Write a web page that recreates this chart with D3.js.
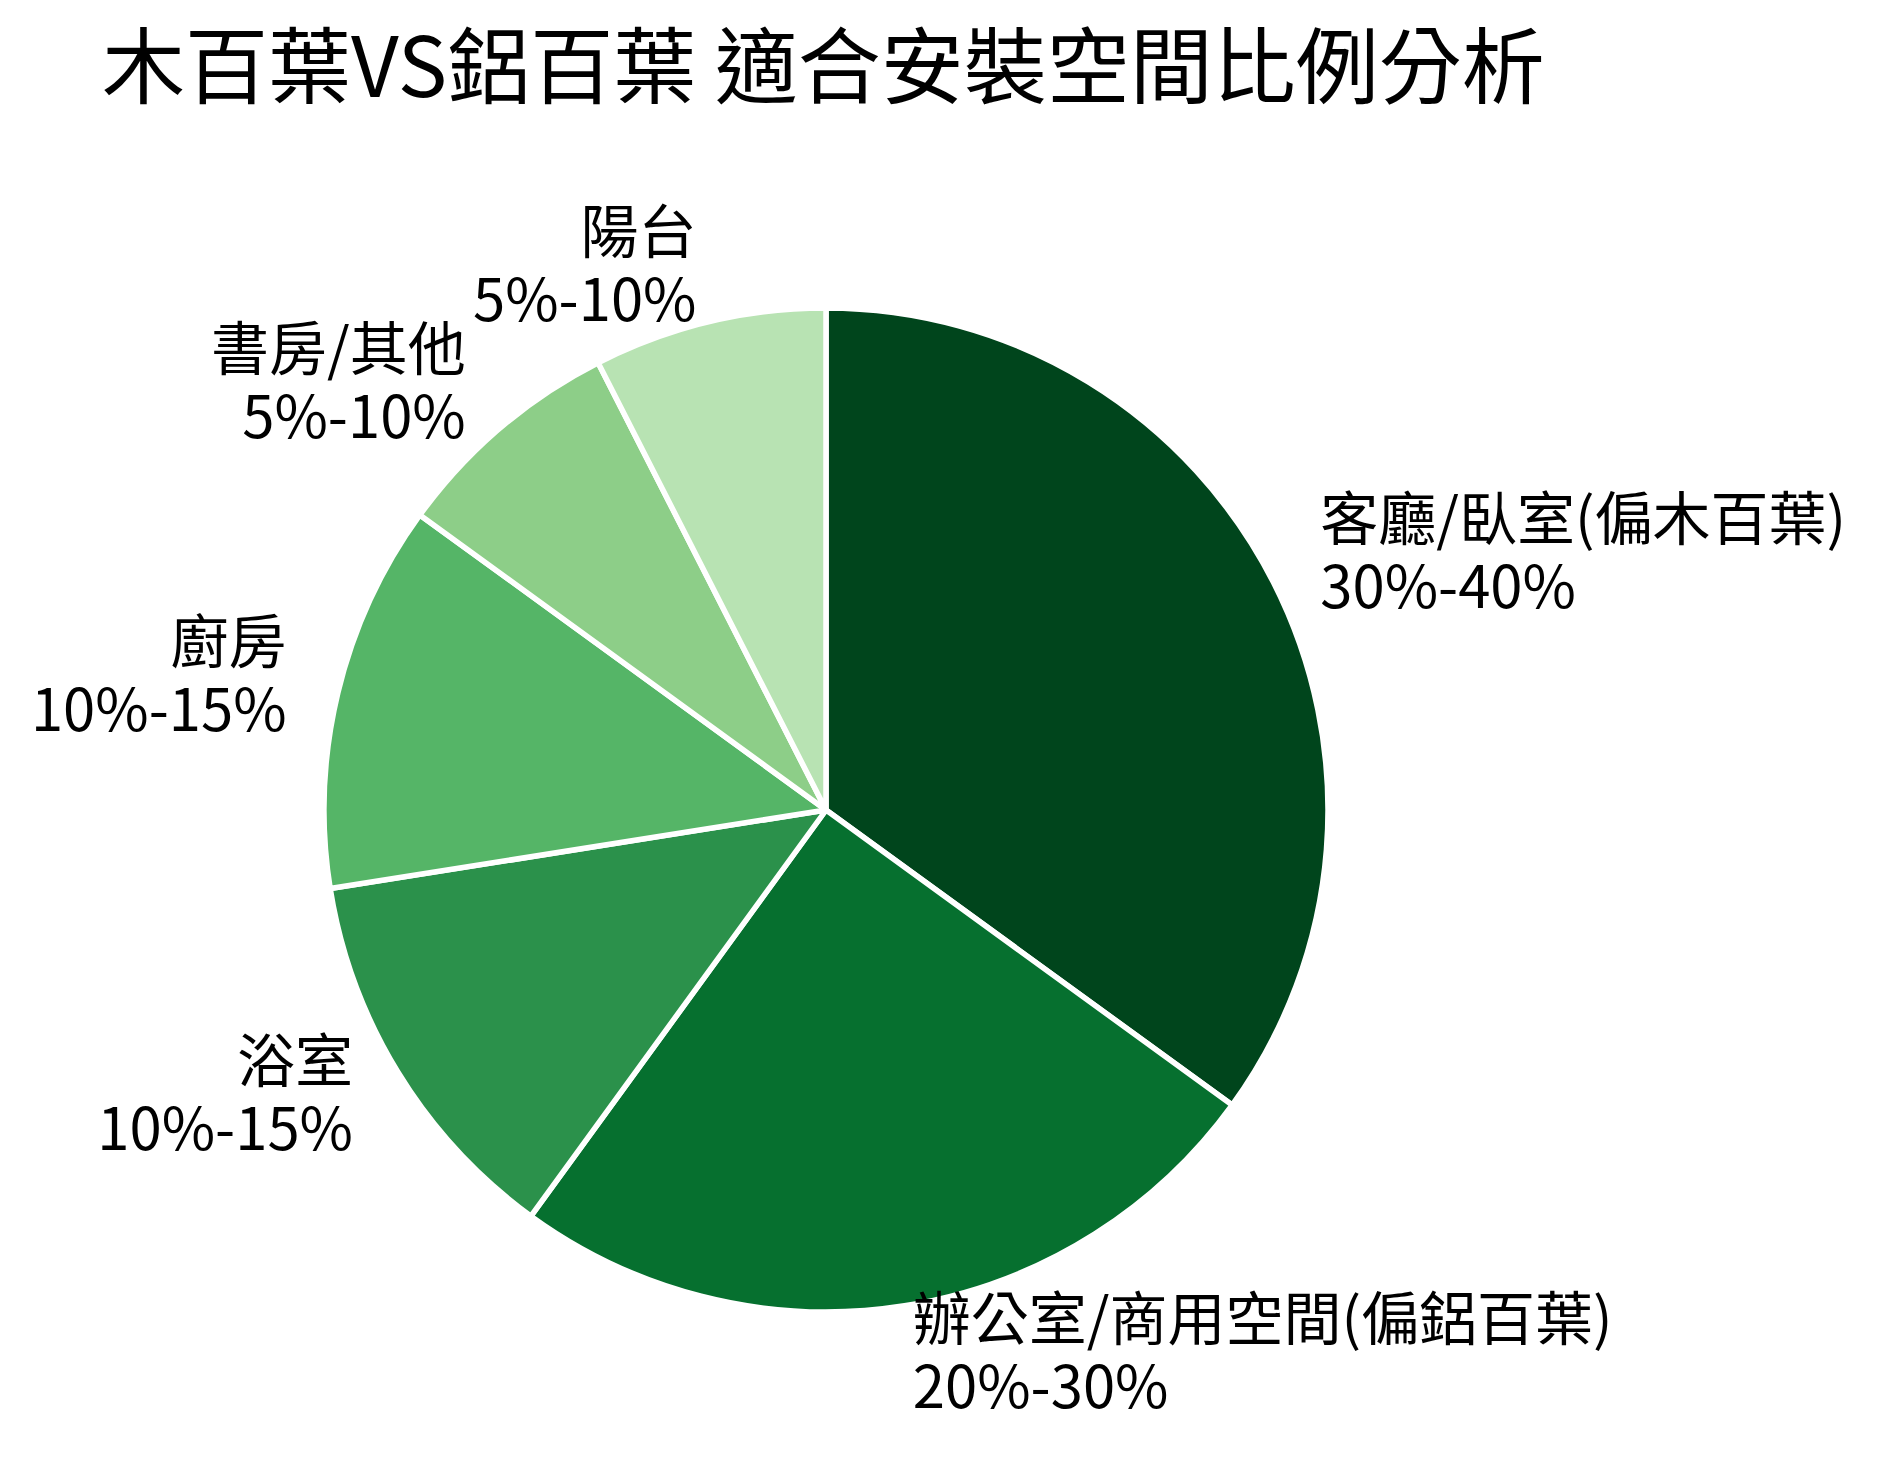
<!DOCTYPE html>
<html>
<head>
<meta charset="utf-8">
<script src="https://cdn.jsdelivr.net/npm/d3@7"></script>
<style>
  body { margin: 0; background: #fff; }
  text { font-family: "Noto Sans CJK TC", "Noto Sans CJK SC", sans-serif; fill: #000; }
</style>
</head>
<body>
<div id="chart"></div>
<script>
var categories = ["客廳/臥室(偏木百葉)", "辦公室/商用空間(偏鋁百葉)", "浴室", "廚房", "書房/其他", "陽台"];
var ranges = ["30%-40%", "20%-30%", "10%-15%", "10%-15%", "5%-10%", "5%-10%"];
var shares = [35, 25, 12.5, 12.5, 7.5, 7.5];

var width = 1877;
var height = 1468;
var radius = 502;
var cx = 826, cy = 810;

var svg = d3.select('#chart').append('svg')
  .attr('width', width)
  .attr('height', height);

svg.append('text')
  .attr('x', 102)
  .attr('y', 97)
  .style('font-size', '83px')
  .text('木百葉VS鋁百葉 適合安裝空間比例分析');

var color = d3.scaleOrdinal()
  .domain(categories)
  .range(["#00451c", "#06702f", "#2b914b", "#55b567", "#8dce88", "#b8e3b3"]);

var data = categories.map(function(c, i) {
  return { name: c, range: ranges[i], share: shares[i] };
});

var pie = d3.pie().sort(null)
  .value(function(d) { return d.share; });

var arc = d3.arc()
  .innerRadius(0)
  .outerRadius(radius);

// labels sit just outside the rim, like a labeldistance of ~1.1
var labelArc = d3.arc()
  .innerRadius(radius * 1.105)
  .outerRadius(radius * 1.105);

var g = svg.append('g')
  .attr('transform', 'translate(' + cx + ',' + cy + ')');

g.selectAll('path')
  .data(pie(data))
  .enter().append('path')
    .attr('d', arc)
    .attr('fill', function(d) { return color(d.data.name); })
    .attr('stroke', '#fff')
    .attr('stroke-width', 5.5)
    .attr('stroke-linejoin', 'round');

var labels = g.selectAll('.label')
  .data(pie(data))
  .enter().append('text')
    .attr('class', 'label')
    .style('font-size', '58px')
    .attr('text-anchor', function(d) {
      return labelArc.centroid(d)[0] >= 0 ? 'start' : 'end';
    });

labels.append('tspan')
  .attr('x', function(d) { return labelArc.centroid(d)[0]; })
  .attr('y', function(d) { return labelArc.centroid(d)[1] - 18; })
  .text(function(d) { return d.data.name; });

labels.append('tspan')
  .attr('x', function(d) { return labelArc.centroid(d)[0]; })
  .attr('y', function(d) { return labelArc.centroid(d)[1] + 50; })
  .text(function(d) { return d.data.range; });
</script>
</body>
</html>
